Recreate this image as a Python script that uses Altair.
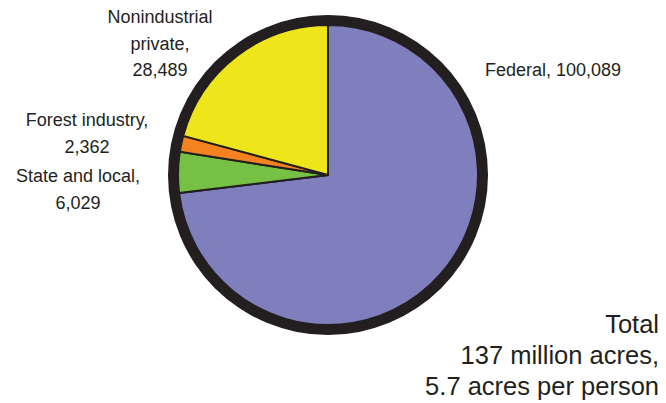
import altair as alt
import pandas as pd
import math

categories = ["Federal", "State and local", "Forest industry", "Nonindustrial private"]
values = [100089, 6029, 2362, 28489]
colors = ["#7F7FBD", "#76C143", "#F58220", "#EEE61B"]
total_lines = ["Total", "137 million acres,", "5.7 acres per person"]

df = pd.DataFrame({"category": categories, "value": values, "order": list(range(len(categories)))})

W, H = 666, 403
CX, CY = 328, 175
INK = "#231F20"
FONT = "Liberation Sans"

ring = alt.Chart(pd.DataFrame({"v": [1]})).mark_arc(
    outerRadius=160, innerRadius=0, color=INK
).encode(theta=alt.value(0), theta2=alt.value(2 * math.pi), x=alt.value(CX), y=alt.value(CY))

pie = alt.Chart(df).mark_arc(
    outerRadius=150, stroke=INK, strokeWidth=2
).encode(
    theta=alt.Theta("value:Q", stack=True),
    order=alt.Order("order:Q", sort="ascending"),
    color=alt.Color("category:N", scale=alt.Scale(domain=categories, range=colors), legend=None),
    x=alt.value(CX),
    y=alt.value(CY),
)

def fmt(n):
    return f"{n:,}"

label_texts = {
    "Federal": f"Federal, {fmt(values[0])}",
    "State and local": f"State and local,\n{fmt(values[1])}",
    "Forest industry": f"Forest industry,\n{fmt(values[2])}",
    "Nonindustrial private": f"Nonindustrial\nprivate,\n{fmt(values[3])}",
}
label_pos = {
    "Federal": (553, 76),
    "State and local": (78, 182),
    "Forest industry": (87, 126),
    "Nonindustrial private": (160, 23),
}

layers = [ring, pie]
for cat in categories:
    x, y = label_pos[cat]
    layers.append(
        alt.Chart(pd.DataFrame({"t": [label_texts[cat]]})).mark_text(
            font=FONT, fontSize=18, color=INK, align="center", baseline="alphabetic",
            lineBreak="\n", lineHeight=26.5
        ).encode(text="t:N", x=alt.value(x), y=alt.value(y))
    )

layers.append(
    alt.Chart(pd.DataFrame({"t": ["\n".join(total_lines)]})).mark_text(
        font=FONT, fontSize=25.5, color=INK, align="right", baseline="alphabetic",
        lineBreak="\n", lineHeight=31
    ).encode(text="t:N", x=alt.value(659), y=alt.value(333))
)

chart = alt.layer(*layers).properties(
    width=W, height=H, padding=0, autosize=alt.AutoSizeParams(type="none")
).configure_view(stroke=None)

chart.save("out.html", embed_options={"renderer": "svg", "actions": False})
